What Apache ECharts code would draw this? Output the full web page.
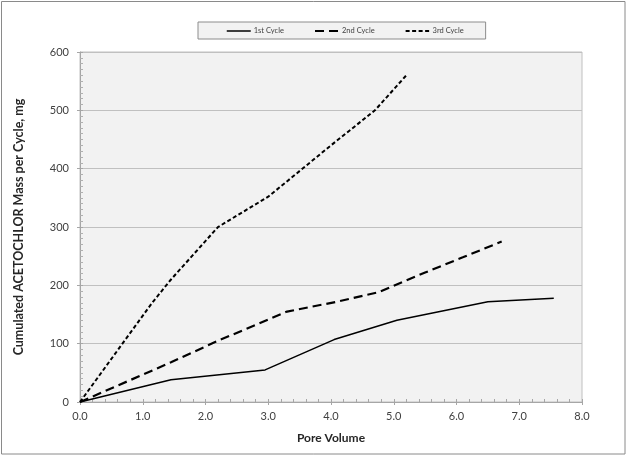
<!DOCTYPE html>
<html>
<head>
<meta charset="utf-8">
<script src="https://cdn.jsdelivr.net/npm/echarts@6/dist/echarts.min.js"></script>
<style>
html,body{margin:0;padding:0;background:#fff;}
#c{width:628px;height:457px;}
</style>
</head>
<body>
<div id="c"></div>
<script>
const seriesNames = ['1st Cycle', '2nd Cycle', '3rd Cycle'];
const cycle1X = [0, 1.45, 2.95, 4.05, 5.05, 6.5, 7.55];
const cycle1Y = [0, 38, 55, 107, 140, 172, 178];
const cycle2X = [0, 1.45, 2.2, 3.3, 4.1, 4.75, 5.5, 6.1, 6.72];
const cycle2Y = [0, 68, 105, 155, 172, 188, 222, 248, 275];
const cycle3X = [0, 1.15, 1.45, 2.2, 3.0, 4.0, 4.7, 5.2];
const cycle3Y = [0, 170, 210, 300, 352, 440, 500, 560];
const xAxisTitle = 'Pore Volume';
const yAxisTitle = 'Cumulated ACETOCHLOR Mass per Cycle, mg';

function pairs(xs, ys) { return xs.map((x, i) => [x, ys[i]]); }

const font = 'Lato, "Open Sans", sans-serif';
const tickColor = '#a6a6a6';
const dashes = ['solid', [9, 5], [4, 2.5]];
const widths = [1.5, 2.2, 2];

const chart = echarts.init(document.getElementById('c'), null, {renderer: 'canvas'});
chart.setOption({
  animation: false,
  backgroundColor: '#ffffff',
  graphic: [{
    type: 'rect', z: 100, silent: true,
    shape: {x: 1.5, y: 1.5, width: 623.5, height: 452.5},
    style: {fill: 'none', stroke: '#8a8a8a', lineWidth: 1}
  }],
  legend: {
    top: 22, left: 198,
    backgroundColor: '#f2f2f2',
    borderColor: '#8c8c8c', borderWidth: 1,
    padding: [5, 22, 4, 28],
    itemWidth: 24, itemHeight: 9, itemGap: 30,
    itemStyle: {opacity: 0},
    textStyle: {fontFamily: font, fontSize: 7.5, color: '#404040', padding: [0, 0, 0, -2]},
    data: seriesNames.map((n, i) => ({name: n, lineStyle: {type: dashes[i], width: widths[i], color: '#000'}}))
  },
  grid: {left: 80, right: 46, top: 52, bottom: 55, show: true, backgroundColor: '#f2f2f2', borderColor: '#c0c0c0', borderWidth: 1},
  xAxis: [{
    type: 'value', min: 0, max: 8, interval: 1,
    name: xAxisTitle, nameLocation: 'middle', nameGap: 30,
    nameTextStyle: {fontFamily: font, fontSize: 12, fontWeight: 'bold', color: '#262626'},
    axisLine: {lineStyle: {color: tickColor}},
    axisTick: {show: true, length: 3, lineStyle: {color: tickColor}},
    splitLine: {show: false},
    axisLabel: {fontFamily: font, fontSize: 11, color: '#404040', margin: 9, formatter: v => v.toFixed(1)}
  }, {
    type: 'value', min: 0, max: 8, interval: 1, position: 'bottom',
    axisLine: {show: false},
    axisTick: {show: true, inside: true, length: 3, lineStyle: {color: tickColor}},
    minorTick: {show: true, splitNumber: 5, length: 3, lineStyle: {color: tickColor}},
    splitLine: {show: false},
    axisLabel: {show: false}
  }],
  yAxis: [{
    type: 'value', min: 0, max: 600, interval: 100,
    name: yAxisTitle, nameLocation: 'middle', nameGap: 55,
    nameTextStyle: {fontFamily: font, fontSize: 12.5, fontWeight: 'bold', color: '#262626'},
    axisLine: {show: true, lineStyle: {color: tickColor}},
    axisTick: {show: true, length: 3, lineStyle: {color: tickColor}},
    splitLine: {show: true, lineStyle: {color: '#c0c0c0', width: 1}},
    axisLabel: {fontFamily: font, fontSize: 11, color: '#404040', margin: 11}
  }, {
    type: 'value', min: 0, max: 600, interval: 100, position: 'left',
    axisLine: {show: false},
    axisTick: {show: true, inside: true, length: 3, lineStyle: {color: tickColor}},
    minorTick: {show: true, splitNumber: 10, length: 3, lineStyle: {color: '#b0b0b0'}},
    splitLine: {show: false},
    axisLabel: {show: false}
  }],
  series: seriesNames.map((n, i) => ({
    name: n, type: 'line', symbol: 'none',
    data: [pairs(cycle1X, cycle1Y), pairs(cycle2X, cycle2Y), pairs(cycle3X, cycle3Y)][i],
    lineStyle: {color: '#000', width: widths[i], type: dashes[i]},
    itemStyle: {color: '#000'}
  }))
});
</script>
</body>
</html>
